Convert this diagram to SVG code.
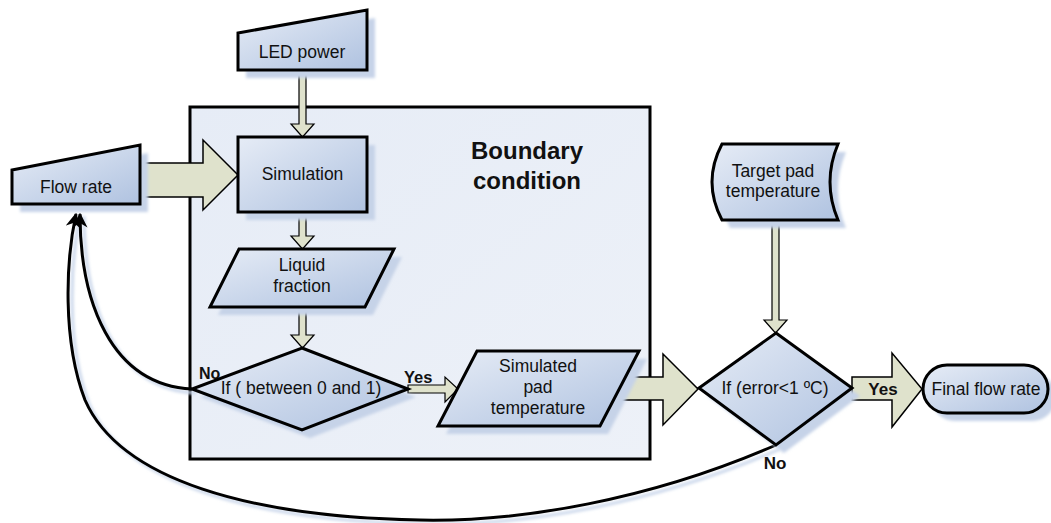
<svg xmlns="http://www.w3.org/2000/svg" width="1051" height="523" viewBox="0 0 1051 523">
  <defs>
    <linearGradient id="nodeFill" x1="0" y1="0" x2="1" y2="1">
      <stop offset="0" stop-color="#e6ecf6"/>
      <stop offset="1" stop-color="#afc2e0"/>
    </linearGradient>
    <linearGradient id="boxFill" x1="0" y1="0" x2="1" y2="1">
      <stop offset="0" stop-color="#e6ecf6"/>
      <stop offset="1" stop-color="#edf1f8"/>
    </linearGradient>
    <filter id="soft" x="-10%" y="-10%" width="120%" height="120%">
      <feGaussianBlur stdDeviation="1.5"/>
    </filter>
    <marker id="head" viewBox="0 0 10 10" refX="9" refY="5" markerWidth="5" markerHeight="5" markerUnits="strokeWidth" orient="auto">
      <path d="M0,0 L10,5 L0,10 L3,5 Z" fill="#000"/>
    </marker>
  </defs>
  <style>
    .node { fill: url(#nodeFill); stroke: #000; stroke-width: 3; stroke-linejoin: miter; }
    .shadow { fill: #c6d3e8; filter: url(#soft); }
    .block { fill: #dfe2cc; stroke: #000; stroke-width: 1.5; stroke-linejoin: miter; }
    .thin { fill: #dfe2cc; stroke: #000; stroke-width: 1.2; stroke-linejoin: miter; }
    .curve { fill: none; stroke: #000; stroke-width: 3; }
    .curveShadow { fill: none; stroke: #c9d6ea; stroke-width: 3; filter: url(#soft); }
    .t { font-family: "Liberation Sans", Arial, sans-serif; font-size: 17.5px; fill: #111; text-anchor: middle; }
    .b { font-family: "Liberation Sans", Arial, sans-serif; font-weight: bold; fill: #111; }
  </style>

  <rect width="1051" height="523" fill="#fff"/>

  <!-- boundary region -->
  <g id="boundary">
    <rect x="190" y="107" width="460" height="352" fill="url(#boxFill)" stroke="#000" stroke-width="3"/>
    <text class="b" x="527" y="159" font-size="24" text-anchor="middle">Boundary</text>
    <text class="b" x="527" y="189" font-size="24" text-anchor="middle">condition</text>
  </g>

  <!-- connectors -->
  <g id="connectors">
    <!-- feedback loops back to flow rate -->
    <path class="curveShadow" transform="translate(4,4)" d="M192,389 C110,385 80,300 80,212"/>
    <path class="curveShadow" transform="translate(4,4)" d="M776,445 C650,500 520,522 420,520 C250,517 120,480 85,400 C62,340 66,260 76,212"/>
    <path class="curve" d="M192,389 C110,385 80,300 80,214" marker-end="url(#head)"/>
    <path class="curve" d="M776,445 C650,500 520,522 420,520 C250,517 120,480 85,400 C62,340 66,260 76,214" marker-end="url(#head)"/>

    <!-- flow rate to simulation -->
    <polygon class="block" points="140,163 203,163 203,140 238,175 203,210 203,197 140,197"/>
    <!-- LED power to simulation -->
    <polygon class="thin" points="299,70 306,70 306,124 314,124 302.5,137 291,124 299,124"/>
    <!-- simulation to liquid fraction -->
    <polygon class="thin" points="299,212 306,212 306,236 314,236 302.5,249 291,236 299,236"/>
    <!-- liquid fraction to decision -->
    <polygon class="thin" points="299,307 306,307 306,335 314,335 302.5,348 291,335 299,335"/>
    <!-- yes branch to simulated temperature -->
    <polygon class="thin" points="408,385 445,385 445,377 458,389 445,402 445,393 408,393"/>
    <!-- simulated temperature to error check -->
    <polygon class="block" points="619,377 663,377 663,354 698,389 663,425 663,400 619,400"/>
    <!-- target temperature to error check -->
    <polygon class="thin" points="772,220 779,220 779,320 787,320 775.5,333 764,320 772,320"/>
    <!-- yes branch to final flow rate -->
    <polygon class="block" points="852,377 892,377 892,353 922,389 892,427 892,400 852,400"/>

    <text class="b" x="199" y="379" font-size="16">No</text>
    <text class="b" x="404" y="383" font-size="16.5">Yes</text>
    <text class="b" x="883" y="395" font-size="17" text-anchor="middle">Yes</text>
    <text class="b" x="775" y="469" font-size="17" text-anchor="middle">No</text>
  </g>

  <g id="led-power">
    <polygon class="shadow" points="246,41 375,18 375,78 246,78"/>
    <polygon class="node" points="238,33 367,10 367,70 238,70"/>
    <text class="t" x="302" y="58">LED power</text>
  </g>

  <g id="flow-rate">
    <polygon class="shadow" points="20,178 148,153 148,212 20,212"/>
    <polygon class="node" points="12,170 140,145 140,204 12,204"/>
    <text class="t" x="76" y="193">Flow rate</text>
  </g>

  <g id="simulation">
    <rect class="shadow" x="246" y="145" width="129" height="75"/>
    <rect class="node" x="238" y="137" width="129" height="75"/>
    <text class="t" x="302.5" y="180">Simulation</text>
  </g>

  <g id="liquid-fraction">
    <polygon class="shadow" points="247,257 402,257 373,315 218,315"/>
    <polygon class="node" points="239,249 394,249 365,307 210,307"/>
    <text class="t" x="302" y="271">Liquid</text>
    <text class="t" x="302" y="292">fraction</text>
  </g>

  <g id="range-check">
    <polygon class="shadow" points="310,356 416,397 310,438 200,397"/>
    <polygon class="node" points="302,348 408,389 302,430 192,389"/>
    <text class="t" x="301" y="394">If ( between 0 and 1)</text>
  </g>

  <g id="simulated-temperature">
    <polygon class="shadow" points="485,359 647,359 608,434 446,434"/>
    <polygon class="node" points="477,351 639,351 600,426 438,426"/>
    <text class="t" x="538" y="372">Simulated</text>
    <text class="t" x="538" y="393">pad</text>
    <text class="t" x="538" y="414">temperature</text>
  </g>

  <g id="target-temperature">
    <path class="shadow" d="M730,152 L846,152 Q830,190 846,228 L730,228 Q710,190 730,152 Z"/>
    <path class="node" d="M722,144 L838,144 Q822,182 838,220 L722,220 Q702,182 722,144 Z"/>
    <text class="t" x="773" y="177">Target pad</text>
    <text class="t" x="773" y="197">temperature</text>
  </g>

  <g id="error-check">
    <polygon class="shadow" points="784,341 860,396 784,453 707,396"/>
    <polygon class="node" points="776,333 852,388 776,445 699,388"/>
    <text class="t" x="775" y="394">If (error&lt;1 ºC)</text>
  </g>

  <g id="final-flow-rate">
    <rect class="shadow" x="931" y="373" width="125" height="48" rx="24"/>
    <rect class="node" x="923" y="365" width="125" height="48" rx="24"/>
    <text class="t" x="986" y="395">Final flow rate</text>
  </g>
</svg>
